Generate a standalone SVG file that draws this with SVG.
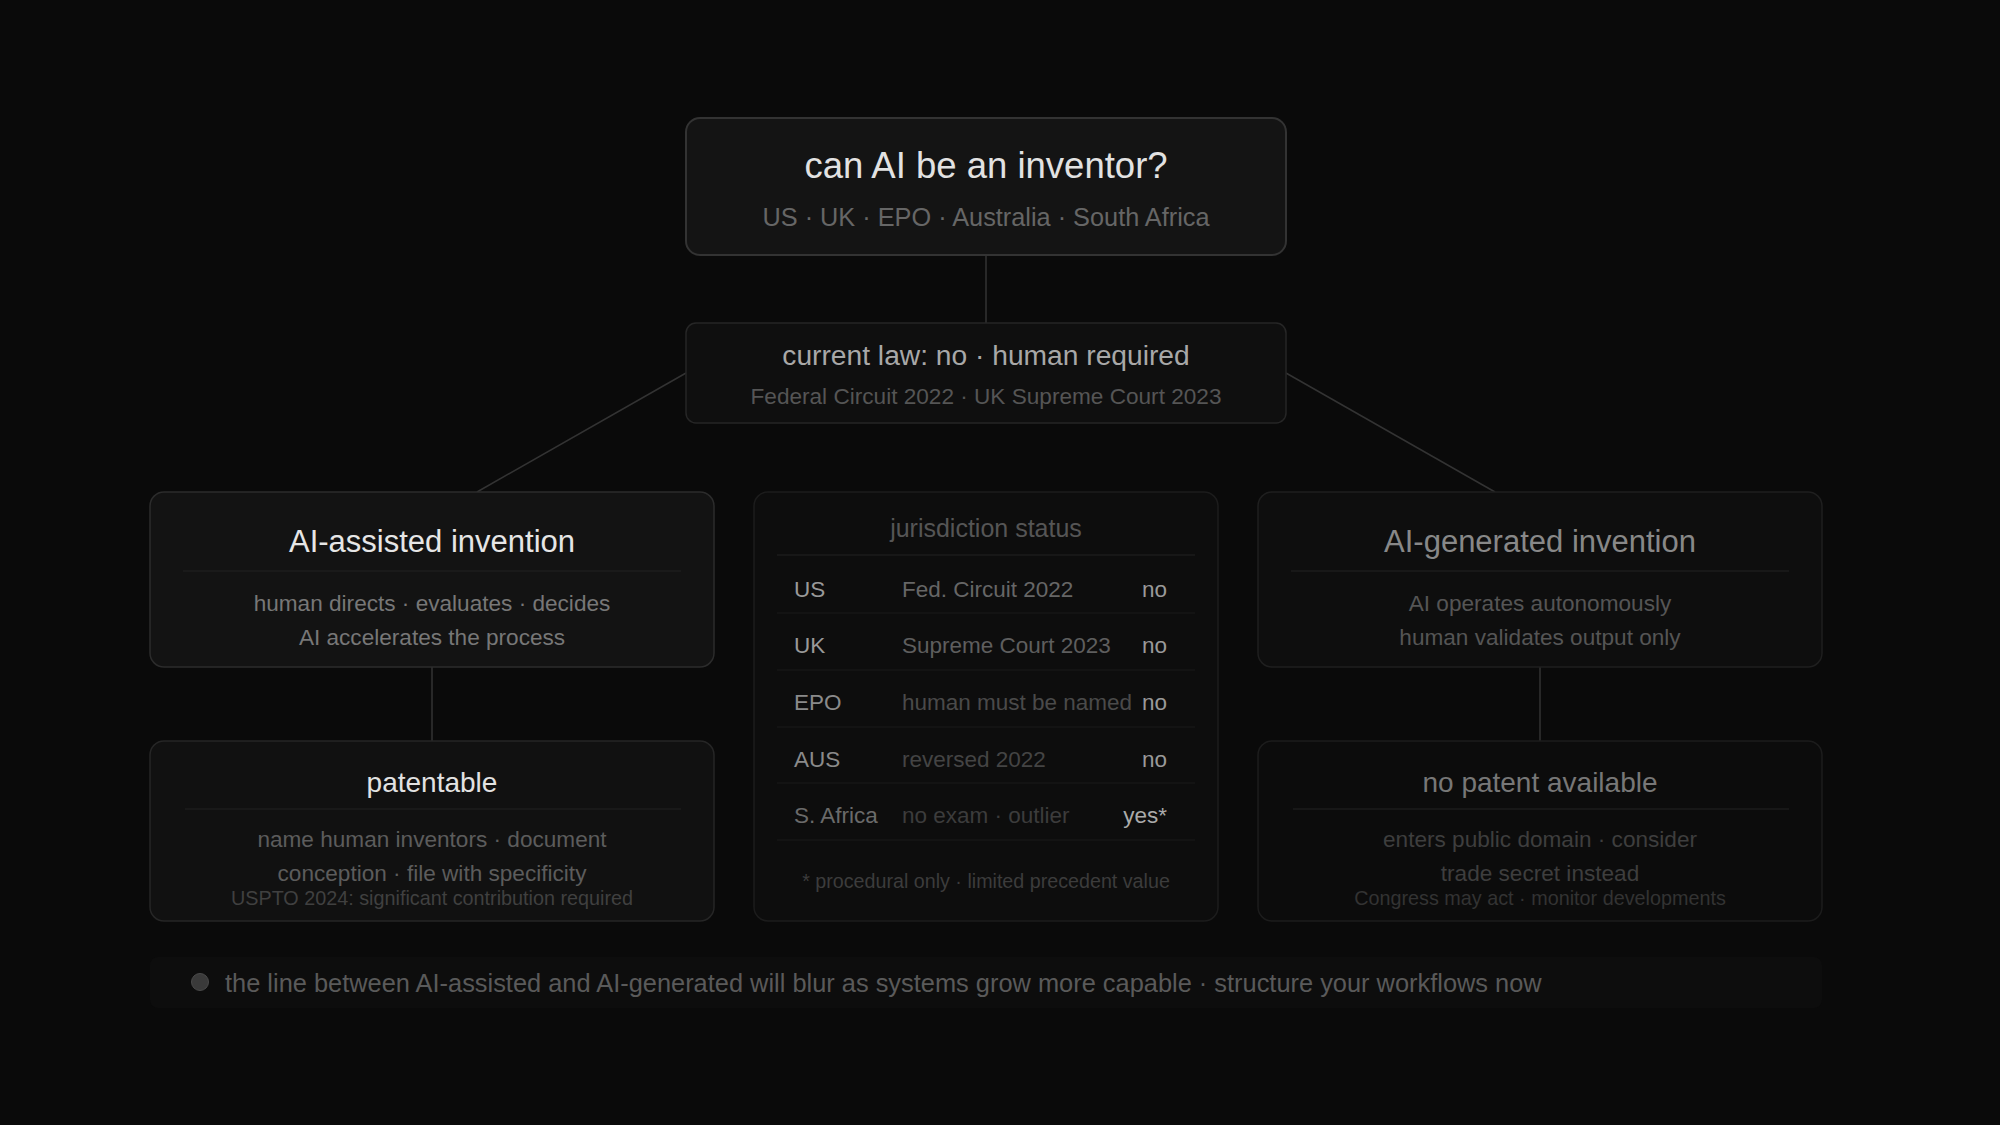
<svg xmlns="http://www.w3.org/2000/svg" width="2000" height="1125" viewBox="0 0 2000 1125">
<style>
text{font-family:"Liberation Sans",Arial,sans-serif;}
.c{text-anchor:middle;}
.e{text-anchor:end;}
.conn{stroke:#333;stroke-width:1.5;fill:none;}
.div{stroke:#222;stroke-width:1;}
.row{stroke:#1a1a1a;stroke-width:1;}
</style>
<rect width="2000" height="1125" fill="#0a0a0a"/>
<g id="connectors">
<line class="conn" x1="986" y1="255" x2="986" y2="323"/>
<line class="conn" x1="686" y1="373" x2="477" y2="492"/>
<line class="conn" x1="1286" y1="373" x2="1495" y2="492"/>
<line class="conn" x1="432" y1="667" x2="432" y2="741"/>
<line class="conn" x1="1540" y1="667" x2="1540" y2="741"/>
</g>
<g id="question">
<rect x="686" y="118" width="600" height="137" rx="14" fill="#141414" stroke="#333" stroke-width="2"/>
<text class="c" x="986" y="178" font-size="36.5" fill="#e2e2e2">can AI be an inventor?</text>
<text class="c" x="986" y="226" font-size="25.3" fill="#666">US · UK · EPO · Australia · South Africa</text>
</g>
<g id="current-law">
<rect x="686" y="323" width="600" height="100" rx="10" fill="#0f0f0f" stroke="#262626" stroke-width="1.5"/>
<text class="c" x="986" y="365" font-size="28.2" fill="#a8a8a8">current law: no · human required</text>
<text class="c" x="986" y="404" font-size="22.6" fill="#555">Federal Circuit 2022 · UK Supreme Court 2023</text>
</g>
<g id="ai-assisted">
<rect x="150" y="492" width="564" height="175" rx="14" fill="#131313" stroke="#2c2c2c" stroke-width="1.5"/>
<text class="c" x="432" y="552" font-size="31" fill="#e6e6e6">AI-assisted invention</text>
<line class="div" x1="183" y1="571" x2="681" y2="571"/>
<text class="c" x="432" y="611" font-size="22.6" fill="#777">human directs · evaluates · decides</text>
<text class="c" x="432" y="645" font-size="22.6" fill="#777">AI accelerates the process</text>
</g>
<g id="patentable">
<rect x="150" y="741" width="564" height="180" rx="14" fill="#111" stroke="#262626" stroke-width="1.5"/>
<text class="c" x="432" y="792" font-size="28" fill="#e2e2e2">patentable</text>
<line class="div" x1="185" y1="809" x2="681" y2="809"/>
<text class="c" x="432" y="847" font-size="22.6" fill="#5c5c5c">name human inventors · document</text>
<text class="c" x="432" y="881" font-size="22.6" fill="#5c5c5c">conception · file with specificity</text>
<text class="c" x="432" y="905" font-size="19.8" fill="#404040">USPTO 2024: significant contribution required</text>
</g>
<g id="jurisdiction">
<rect x="754" y="492" width="464" height="429" rx="14" fill="#0d0d0d" stroke="#1c1c1c" stroke-width="1.5"/>
<text class="c" x="986" y="537" font-size="25" fill="#555">jurisdiction status</text>
<line class="div" x1="777" y1="555" x2="1195" y2="555"/>
<text x="794" y="597" font-size="22.5" fill="#999">US</text>
<text x="902" y="597" font-size="22.5" fill="#666">Fed. Circuit 2022</text>
<text class="e" x="1167" y="597" font-size="22.5" fill="#999">no</text>
<line class="row" x1="777" y1="613" x2="1195" y2="613"/>
<text x="794" y="653" font-size="22.5" fill="#999">UK</text>
<text x="902" y="653" font-size="22.5" fill="#5e5e5e">Supreme Court 2023</text>
<text class="e" x="1167" y="653" font-size="22.5" fill="#999">no</text>
<line class="row" x1="777" y1="670" x2="1195" y2="670"/>
<text x="794" y="710" font-size="22.5" fill="#8a8a8a">EPO</text>
<text x="902" y="710" font-size="22.5" fill="#4a4a4a">human must be named</text>
<text class="e" x="1167" y="710" font-size="22.5" fill="#999">no</text>
<line class="row" x1="777" y1="727" x2="1195" y2="727"/>
<text x="794" y="767" font-size="22.5" fill="#8a8a8a">AUS</text>
<text x="902" y="767" font-size="22.5" fill="#444">reversed 2022</text>
<text class="e" x="1167" y="767" font-size="22.5" fill="#999">no</text>
<line class="row" x1="777" y1="783" x2="1195" y2="783"/>
<text x="794" y="823" font-size="22.5" fill="#6a6a6a">S. Africa</text>
<text x="902" y="823" font-size="22.5" fill="#3c3c3c">no exam · outlier</text>
<text class="e" x="1167" y="823" font-size="22.5" fill="#aaa">yes*</text>
<line class="row" x1="777" y1="840" x2="1195" y2="840"/>
<text class="c" x="986" y="888" font-size="19.7" fill="#3c3c3c">* procedural only · limited precedent value</text>
</g>
<g id="ai-generated">
<rect x="1258" y="492" width="564" height="175" rx="14" fill="#0e0e0e" stroke="#1f1f1f" stroke-width="1.5"/>
<text class="c" x="1540" y="552" font-size="31" fill="#888">AI-generated invention</text>
<line class="div" x1="1291" y1="571" x2="1789" y2="571" stroke="#1a1a1a"/>
<text class="c" x="1540" y="611" font-size="22.6" fill="#555">AI operates autonomously</text>
<text class="c" x="1540" y="645" font-size="22.6" fill="#555">human validates output only</text>
</g>
<g id="no-patent">
<rect x="1258" y="741" width="564" height="180" rx="14" fill="#0c0c0c" stroke="#1c1c1c" stroke-width="1.5"/>
<text class="c" x="1540" y="792" font-size="28" fill="#777">no patent available</text>
<line class="div" x1="1293" y1="809" x2="1789" y2="809" stroke="#1a1a1a"/>
<text class="c" x="1540" y="847" font-size="22.6" fill="#3e3e3e">enters public domain · consider</text>
<text class="c" x="1540" y="881" font-size="22.6" fill="#3e3e3e">trade secret instead</text>
<text class="c" x="1540" y="905" font-size="19.8" fill="#333">Congress may act · monitor developments</text>
</g>
<g id="note">
<rect x="150" y="957" width="1672" height="51" rx="8" fill="#0d0d0d"/>
<circle cx="200" cy="982" r="8.5" fill="#3a3a3a" stroke="#4a4a4a" stroke-width="1"/>
<text x="225" y="992" font-size="25.4" fill="#5a5a5a">the line between AI-assisted and AI-generated will blur as systems grow more capable · structure your workflows now</text>
</g>
</svg>
